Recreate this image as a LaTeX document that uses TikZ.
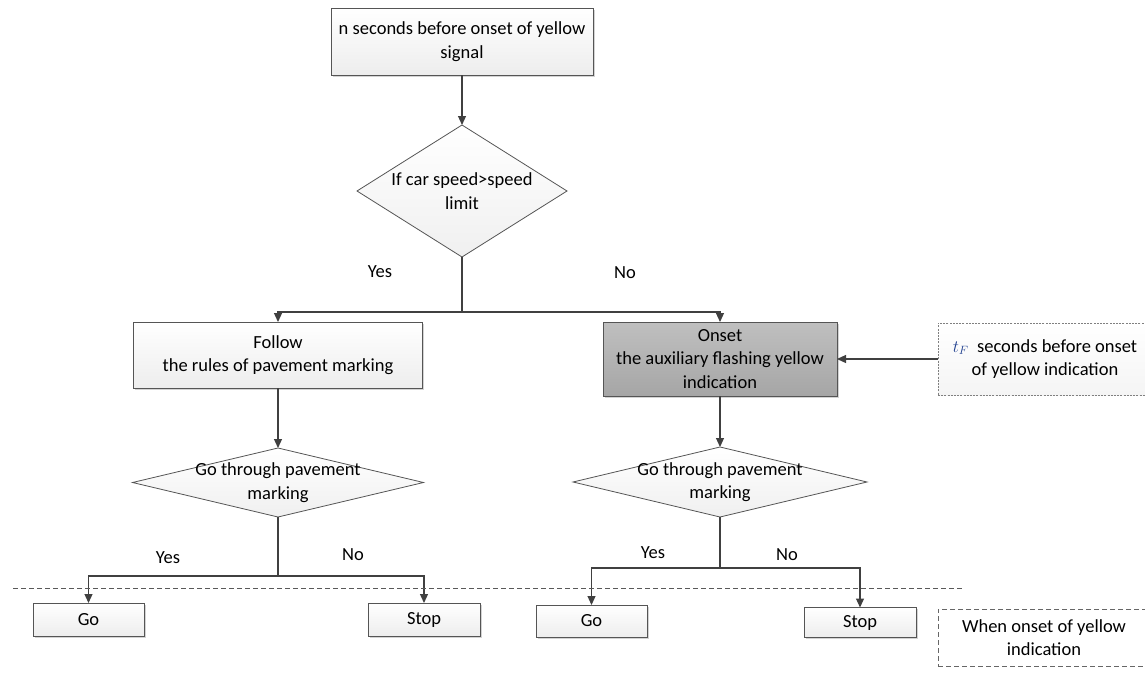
\documentclass[tikz,border=0pt]{standalone}
\usepackage{fontspec}
\setmainfont{Carlito}
\usetikzlibrary{arrows.meta,shapes.geometric,shadows}
\definecolor{linegray}{HTML}{404040}
\definecolor{boxedge}{HTML}{555555}
\definecolor{darkfill}{HTML}{B4B4B4}
\definecolor{tfblue}{HTML}{1F3F8F}
\tikzset{
  base/.style={font=\fontsize{18.5}{23.5}\selectfont, align=center, inner sep=0pt, outer sep=0pt},
  procbox/.style={base, rectangle, draw=boxedge, line width=0.8pt,
    top color=white, bottom color=gray!14,
    drop shadow={shadow xshift=1.5pt, shadow yshift=-1.5pt, opacity=0.35, fill=gray}},
  darkbox/.style={procbox, top color=darkfill!85!white, bottom color=darkfill!92!black},
  decision/.style={base, diamond, draw=boxedge, line width=0.8pt,
    top color=white, bottom color=gray!12},
  notebox/.style={base, rectangle, draw=gray, line width=0.8pt, dash pattern=on 2pt off 1.2pt,
    top color=white, bottom color=gray!8},
  legendbox/.style={base, rectangle, draw=gray!80!black, line width=0.8pt, dash pattern=on 5pt off 3pt, fill=white},
  txt/.style={base},
  flow/.style={draw=linegray, line width=1.2pt},
  arr/.style={flow, -{Triangle[length=9pt,width=8pt]}},
}
\begin{document}
\begin{tikzpicture}[x=1pt,y=-1pt]
\useasboundingbox (0,0) rectangle (1145,688);
\clip (0,0) rectangle (1145,688);

% process boxes
\node[procbox, minimum width=262, minimum height=67] (start) at (462,41.5)
  {n seconds before onset of yellow\\signal};
\node[procbox, minimum width=289, minimum height=66] (follow) at (278,355)
  {Follow\\the rules of pavement marking};
\node[darkbox, minimum width=234, minimum height=74] (onset) at (720,359)
  {Onset\\the auxiliary flashing yellow\\indication};

% decisions (shape and its text)
\node[decision, minimum width=210, minimum height=132] (speed) at (462,191) {};
\node[txt] (speedtxt) at (speed.center) {If car speed>speed\\limit};
\node[decision, minimum width=291, minimum height=69] (passL) at (278,482.5) {};
\node[txt] (passLtxt) at (passL.center) {Go through pavement\\marking};
\node[decision, minimum width=294, minimum height=70] (passR) at (720,482) {};
\node[txt] (passRtxt) at (passR.center) {Go through pavement\\marking};

% outcomes
\node[procbox, minimum width=111, minimum height=33] (goL) at (88.5,619.5) {Go};
\node[procbox, minimum width=112, minimum height=33] (stopL) at (424,619.5) {Stop};
\node[procbox, minimum width=111, minimum height=32] (goR) at (591.5,621) {Go};
\node[procbox, minimum width=112, minimum height=30] (stopR) at (860,622.5) {Stop};

% side notes
\node[notebox, minimum width=214, minimum height=72] (tf) at (1045,359)
  {{\color{tfblue}$t_F$}\ \ seconds before onset\\of yellow indication};
\node[legendbox, minimum width=212, minimum height=57] (legend) at (1044,637.5)
  {When onset of yellow\\indication};

% junction points
\coordinate (j1) at (462,312);
\coordinate (j2) at (278,576);
\coordinate (j3) at (720,568);
\coordinate (dashA) at (13,588);
\coordinate (dashB) at (962,588);

% connectors
\draw[arr] (start.south) -- (speed.north);
\draw[flow] (speed.south) -- (j1);
\draw[arr] (j1) -| (follow.north);
\draw[arr] (j1) -| (onset.north);
\draw[arr] (tf.west) -- (onset.east);
\draw[arr] (follow.south) -- (passL.north);
\draw[arr] (onset.south) -- (passR.north);
\draw[flow] (passL.south) -- (j2);
\draw[arr] (j2) -| (goL.north);
\draw[arr] (j2) -| (stopL.north);
\draw[flow] (passR.south) -- (j3);
\draw[arr] (j3) -| (goR.north);
\draw[arr] (j3) -| (stopR.north);

% separator line
\draw[draw=gray!70!black, line width=0.8pt, dash pattern=on 5pt off 3pt] (dashA) -- (dashB);

% branch labels
\node[txt] (yes1) at (380,272) {Yes};
\node[txt] (no1) at (625,273) {No};
\node[txt] (yes2) at (168,558) {Yes};
\node[txt] (no2) at (353,555) {No};
\node[txt] (yes3) at (653,553) {Yes};
\node[txt] (no3) at (787,555) {No};
\end{tikzpicture}
\end{document}
